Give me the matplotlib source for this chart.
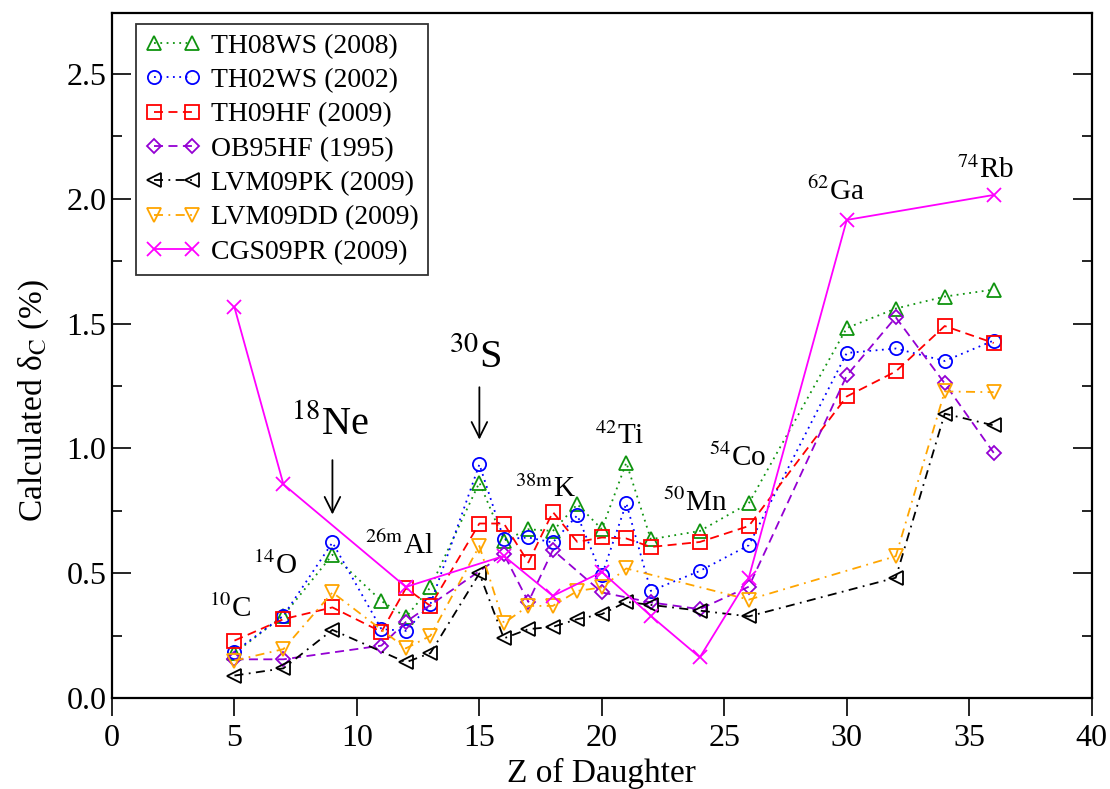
import matplotlib
matplotlib.use("Agg")
import matplotlib.pyplot as plt

plt.rcParams['font.family'] = ['Liberation Serif', 'DejaVu Serif']
plt.rcParams['mathtext.fontset'] = 'stix'

# ---------------- data ----------------
z_th08 = [5, 7, 9, 11, 12, 13, 15, 16, 17, 18, 19, 20, 21, 22, 24, 26, 30, 32, 34, 36]
d_th08 = [0.18, 0.33, 0.574, 0.389, 0.324, 0.443, 0.863, 0.63, 0.676, 0.669, 0.776,
          0.676, 0.943, 0.636, 0.669, 0.78, 1.482, 1.56, 1.608, 1.636]

z_th02 = [5, 7, 9, 11, 12, 13, 15, 16, 17, 18, 19, 20, 21, 22, 24, 26, 30, 32, 34, 36]
d_th02 = [0.185, 0.33, 0.623, 0.276, 0.269, 0.376, 0.936, 0.636, 0.643, 0.623, 0.732,
          0.492, 0.78, 0.429, 0.509, 0.612, 1.382, 1.40, 1.35, 1.432]

z_th09 = [5, 7, 9, 11, 12, 13, 15, 16, 17, 18, 19, 20, 21, 22, 24, 26, 30, 32, 34, 36]
d_th09 = [0.23, 0.316, 0.363, 0.265, 0.44, 0.369, 0.699, 0.699, 0.543, 0.745, 0.625,
          0.643, 0.639, 0.605, 0.625, 0.689, 1.208, 1.308, 1.49, 1.422]

z_ob95 = [5, 7, 11, 12, 16, 17, 18, 20, 22, 24, 26, 30, 32, 34, 36]
d_ob95 = [0.155, 0.155, 0.21, 0.305, 0.576, 0.385, 0.593, 0.423, 0.383, 0.356, 0.446,
          1.292, 1.525, 1.26, 0.982]

z_lvmpk = [5, 7, 9, 12, 13, 15, 16, 17, 18, 19, 20, 21, 22, 24, 26, 32, 34, 36]
d_lvmpk = [0.09, 0.119, 0.273, 0.143, 0.18, 0.499, 0.239, 0.276, 0.285, 0.316, 0.336,
           0.385, 0.373, 0.35, 0.327, 0.482, 1.139, 1.092]

z_lvmdd = [5, 7, 9, 12, 13, 15, 16, 17, 18, 19, 20, 21, 26, 32, 34, 36]
d_lvmdd = [0.15, 0.196, 0.423, 0.199, 0.249, 0.609, 0.30, 0.369, 0.369, 0.429, 0.443,
           0.519, 0.394, 0.568, 1.228, 1.225]

z_cgs = [5, 7, 12, 16, 18, 20, 22, 24, 26, 30, 36]
d_cgs = [1.565, 0.856, 0.445, 0.569, 0.409, 0.505, 0.329, 0.163, 0.482, 1.915, 2.015]

labels = ['TH08WS (2008)', 'TH02WS (2002)', 'TH09HF (2009)', 'OB95HF (1995)',
          'LVM09PK (2009)', 'LVM09DD (2009)', 'CGS09PR (2009)']

# nucleus labels
nuclei_sup = ['10', '14', '18', '26m', '30', '38m', '42', '50', '54', '62', '74']
nuclei_sym = ['C', 'O', 'Ne', 'Al', 'S', 'K', 'Ti', 'Mn', 'Co', 'Ga', 'Rb']
nuclei_x = [3.96, 5.76, 7.3, 10.33, 13.75, 16.45, 19.72, 22.5, 24.38, 28.38, 34.5]
nuclei_y = [0.324, 0.496, 1.056, 0.576, 1.324, 0.804, 1.016, 0.748, 0.928, 1.996, 2.082]
nuclei_big = [False, False, True, False, True, False, False, False, False, False, False]

arrow_x = [9, 15]
arrow_y_start = [0.964, 1.256]
arrow_y_end = [0.724, 1.024]

# ---------------- figure ----------------
fig = plt.figure(figsize=(11.10, 7.89), dpi=100)
ax = fig.add_axes([0.1009, 0.1153, 0.9835 - 0.1009, 0.9839 - 0.1153])

ms = 9.5
mew = 1.3
lw = 1.3
series = [
    (z_th08, d_th08, '#0f940f', '^', (0, (1, 2.5))),
    (z_th02, d_th02, '#0000ff', 'o', (0, (1, 2.5))),
    (z_th09, d_th09, '#ff0000', 's', (0, (5, 3))),
    (z_ob95, d_ob95, '#9400d3', 'D', (0, (5, 3))),
    (z_lvmpk, d_lvmpk, '#000000', '<', (0, (5, 3, 1, 3))),
    (z_lvmdd, d_lvmdd, '#ffa500', 'v', (0, (5, 3, 1, 3))),
    (z_cgs, d_cgs, '#ff00ff', 'x', '-'),
]
for (zz, dd, c, m, ls), lab in zip(series, labels):
    msz = ms * 0.8 if m == 'D' else ms
    ax.plot(zz, dd, color=c, linestyle=ls, linewidth=lw, marker=m,
            markersize=msz, markerfacecolor='none', markeredgecolor=c,
            markeredgewidth=mew, label=lab)

ax.set_xlim(0, 40)
ax.set_ylim(0, 2.745)
ax.set_xticks(range(0, 41, 5))
ax.set_yticks([0.0, 0.5, 1.0, 1.5, 2.0, 2.5])
ax.set_yticks([0.25, 0.75, 1.25, 1.75, 2.25], minor=True)
ax.set_yticklabels(['0.0', '0.5', '1.0', '1.5', '2.0', '2.5'])

ax.tick_params(axis='x', which='major', direction='out', length=13, width=1.2,
               labelsize=23, pad=6, top=False)
ax.tick_params(axis='y', which='major', direction='in', length=14, width=1.2,
               labelsize=23, right=True, pad=4)
ax.tick_params(axis='y', which='minor', direction='in', length=7, width=1.2, right=True)
for sp in ax.spines.values():
    sp.set_linewidth(1.6)

ax.set_xlabel('Z of Daughter', fontsize=24, labelpad=3)
ax.set_ylabel(r'Calculated δ$_{\mathrm{C}}$ (%)', fontsize=24)
ax.yaxis.set_label_coords(-0.062, 0.435)

for sup, sym, x, y, big in zip(nuclei_sup, nuclei_sym, nuclei_x, nuclei_y, nuclei_big):
    fs = 29 if big else 21
    ax.text(x, y, r'$^{\mathrm{%s}}$%s' % (sup, sym), fontsize=fs,
            ha='left', va='baseline')

for x, y0, y1 in zip(arrow_x, arrow_y_start, arrow_y_end):
    ax.annotate('', xy=(x, y1), xytext=(x, y0),
                arrowprops=dict(arrowstyle='->', color='black', lw=1.3,
                                mutation_scale=28))

leg = ax.legend(loc='upper left', bbox_to_anchor=(0.024, 0.984), fontsize=20,
                numpoints=2, handlelength=2.0, handletextpad=0.36,
                labelspacing=0.32, borderpad=0.35, frameon=True, fancybox=False,
                borderaxespad=0.0)
leg.get_frame().set_edgecolor('black')
leg.get_frame().set_linewidth(1.3)

fig.savefig('out.png', dpi=100)
